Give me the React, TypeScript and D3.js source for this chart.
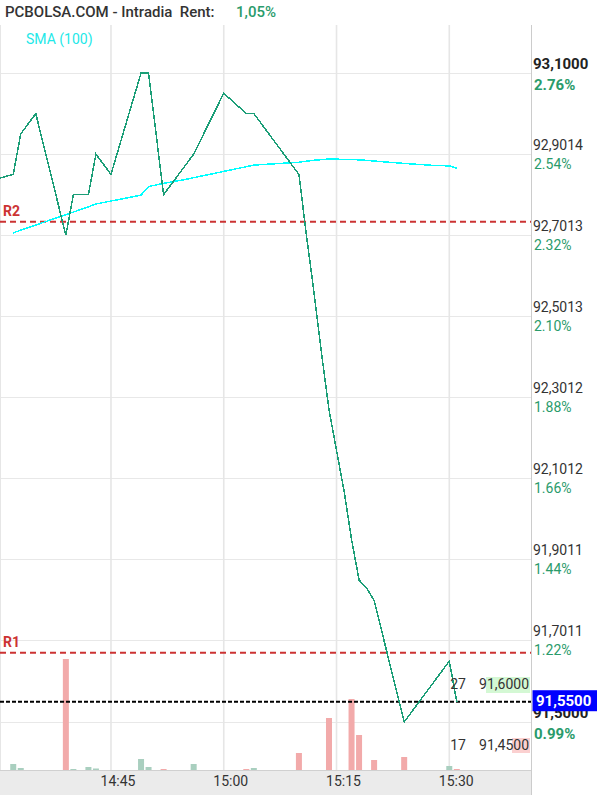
import React from "react";
import * as d3 from "d3";

const W = 604;
const H = 795;

// Price (minutes past 14:00)
const priceMinutes = [30, 32, 33, 35, 39, 40, 42, 43, 45, 49, 50, 52, 56, 60, 63, 64, 70, 71, 72, 73, 74, 75, 76, 77, 78, 79, 80, 84, 90, 91];
const prices = [92.84, 92.85, 92.95, 93.0, 92.7, 92.8, 92.8, 92.9, 92.85, 93.1, 93.1, 92.8, 92.9, 93.05, 93.0, 93.0, 92.85, 92.7, 92.56, 92.41, 92.27, 92.17, 92.07, 91.95, 91.85, 91.83, 91.8, 91.5, 91.65, 91.55];

// SMA (100)
const smaMinutes = [32, 37, 42, 43, 49, 50, 52, 55, 63, 64, 70, 72, 74, 78, 80, 84, 88, 90, 91];
const smaValues = [92.706, 92.738, 92.77, 92.777, 92.799, 92.82, 92.828, 92.838, 92.869, 92.873, 92.88, 92.885, 92.888, 92.886, 92.883, 92.877, 92.872, 92.871, 92.865];

// Volume
const volMinutes = [32, 33, 39, 40, 42, 43, 49, 50, 52, 56, 63, 64, 70, 74, 77, 78, 80, 84, 90, 91];
const volumes = [60, 20, 1110, 10, 30, 15, 110, 30, 10, 60, 10, 20, 170, 520, 710, 350, 100, 130, 40, 10];
const volUp = [true, true, false, true, true, true, true, true, false, true, false, true, false, false, false, false, false, false, true, false];

// Right axis ticks
const priceTicks = [93.1, 92.9014, 92.7013, 92.5013, 92.3012, 92.1012, 91.9011, 91.7011, 91.5];
const priceTickLabels = ["93,1000", "92,9014", "92,7013", "92,5013", "92,3012", "92,1012", "91,9011", "91,7011", "91,5000"];
const pctTickLabels = ["2.76%", "2.54%", "2.32%", "2.10%", "1.88%", "1.66%", "1.44%", "1.22%", "0.99%"];

const R1 = 91.671;
const R2 = 92.733;
const lastPrice = 91.55;
const lastLabel = "91,5500";
const bidQty = "27";
const bidPrice = "91,6000";
const askQty = "17";
const askPrice = "91,4500";
const rentLabel = "1,05%";

const FONT = "Roboto, 'Noto Sans', sans-serif";
const GREEN_TXT = "#2a9b6b";
const LINE = "#1b9e77";
const RED = "#cc3333";

const base = new Date(2024, 0, 2, 14, 0, 0).getTime();
const tm = (m: number) => new Date(base + m * 60000);

export default function App() {
  const plotL = 0, plotR = 531, plotT = 25, plotB = 770;
  const x = d3.scaleTime().domain([tm(30), tm(71 + 0)]).range([-1.8, -1.8 + 41 * 7.518]);
  // extend domain consistently
  x.domain([tm(30), tm(101)]).range([-1.8, -1.8 + 71 * 7.518]);
  const y = d3.scaleLinear().domain([91.5, 93.1]).range([722, 73]);
  const yv = d3.scaleLinear().domain([0, 1200]).range([plotB, plotB - 120]);

  const priceLine = d3
    .line<number>()
    .x((_, i) => x(tm(priceMinutes[i])))
    .y((d) => y(d))(prices) as string;
  const smaLine = d3
    .line<number>()
    .x((_, i) => x(tm(smaMinutes[i])))
    .y((d) => y(d))(smaValues) as string;

  const timeTicks = x.ticks(d3.timeMinute.every(15) as any).filter((d) => x(d) > 5 && x(d) < plotR);
  const fmt = d3.timeFormat("%H:%M");

  return (
    <svg width={W} height={H} style={{ position: "absolute", left: 0, top: 0, background: "#fff" }} fontFamily={FONT}>
      <defs>
        <clipPath id="plot">
          <rect x={plotL} y={plotT} width={plotR - plotL} height={plotB - plotT} />
        </clipPath>
      </defs>
      {/* header */}
      <text x={5} y={17} fontSize={15} fontWeight={500} fill="#333" style={{ whiteSpace: "pre" }}>
        {"PCBOLSA.COM - Intradia  Rent:"}
      </text>
      <text x={236} y={17} fontSize={15} fontWeight={500} fill={GREEN_TXT}>{rentLabel}</text>

      {/* grid */}
      {priceTicks.map((v, i) => (
        <line key={"h" + i} x1={plotL} x2={plotR} y1={Math.round(y(v)) + 0.5} y2={Math.round(y(v)) + 0.5} stroke="#e8e8e8" strokeWidth={1} />
      ))}
      {timeTicks.map((d, i) => (
        <line key={"v" + i} x1={x(d)} x2={x(d)} y1={plotT} y2={plotB} stroke="#e6e6e6" strokeWidth={1.6} />
      ))}
      <line x1={0.5} x2={0.5} y1={plotT} y2={plotB} stroke="#e6e6e6" strokeWidth={1} />

      {/* volume */}
      {volumes.map((v, i) => (
        <rect key={"vol" + i} x={x(tm(volMinutes[i])) - 3} width={6} y={yv(v)} height={plotB - yv(v)} fill={volUp[i] ? "#a9cfbf" : "#f2aaaa"} />
      ))}

      {/* R lines */}
      <line x1={plotL} x2={plotR} y1={y(R2)} y2={y(R2)} stroke={RED} strokeWidth={2} strokeDasharray="6,4" />
      <text x={3} y={y(R2) - 6} fontSize={14} fontWeight="bold" fill={RED}>R2</text>
      <line x1={plotL} x2={plotR} y1={y(R1)} y2={y(R1)} stroke={RED} strokeWidth={2} strokeDasharray="6,4" />
      <text x={3} y={y(R1) - 6} fontSize={14} fontWeight="bold" fill={RED}>R1</text>

      {/* last price line */}
      <line x1={plotL} x2={plotR} y1={y(lastPrice)} y2={y(lastPrice)} stroke="#000" strokeWidth={2} strokeDasharray="4,2" />

      {/* SMA and price */}
      <g clipPath="url(#plot)">
        <path d={smaLine} fill="none" stroke="#00ffff" strokeWidth={1.5} shapeRendering="crispEdges" />
        <path d={priceLine} fill="none" stroke={LINE} strokeWidth={1.5} shapeRendering="crispEdges" />
      </g>
      <text x={26} y={44} fontSize={14} fill="#22e8e8">SMA (100)</text>

      {/* bid / ask */}
      <rect x={486} y={677} width={44} height={16} fill="#d4f8d4" />
      <text x={466} y={689} fontSize={14} fill="#333" textAnchor="end">{bidQty}</text>
      <text x={529} y={689} fontSize={14} fill="#333" textAnchor="end">{bidPrice}</text>
      <rect x={512} y={738} width={18} height={15} fill="#fbd0d0" />
      <text x={466} y={750} fontSize={14} fill="#333" textAnchor="end">{askQty}</text>
      <text x={529} y={750} fontSize={14} fill="#333" textAnchor="end">{askPrice}</text>

      {/* x axis band */}
      <rect x={0} y={plotB} width={plotR} height={H - plotB} fill="#ebebeb" />
      <line x1={0} x2={plotR} y1={plotB + 0.5} y2={plotB + 0.5} stroke="#d0d0d0" />
      {timeTicks.map((d, i) => (
        <text key={"tl" + i} x={x(d) + 7} y={786} fontSize={14} fill="#333" textAnchor="middle">{fmt(d)}</text>
      ))}

      {/* right axis */}
      <line x1={plotR + 0.5} x2={plotR + 0.5} y1={plotT} y2={H} stroke="#cccccc" strokeWidth={1} />
      {priceTicks.map((v, i) => {
        const bold = i === 0 || i === priceTicks.length - 1;
        const gy = y(v);
        return (
          <g key={"rt" + i}>
            <text x={533} y={gy - 4} fontSize={bold ? 15 : 14} fontWeight={bold ? "bold" : "normal"} fill={bold ? "#222" : "#333"}>{priceTickLabels[i]}</text>
            <text x={534} y={gy + (bold ? 16.5 : 15)} fontSize={bold ? 15 : 14} fontWeight={bold ? "bold" : "normal"} fill={GREEN_TXT}>{pctTickLabels[i]}</text>
          </g>
        );
      })}
      {/* last price box */}
      <rect x={532.5} y={y(lastPrice) - 11.5} width={64.5} height={21} fill="#0000ff" />
      <text x={536} y={y(lastPrice) + 4} fontSize={15} fontWeight="bold" fill="#fff">{lastLabel}</text>
    </svg>
  );
}
